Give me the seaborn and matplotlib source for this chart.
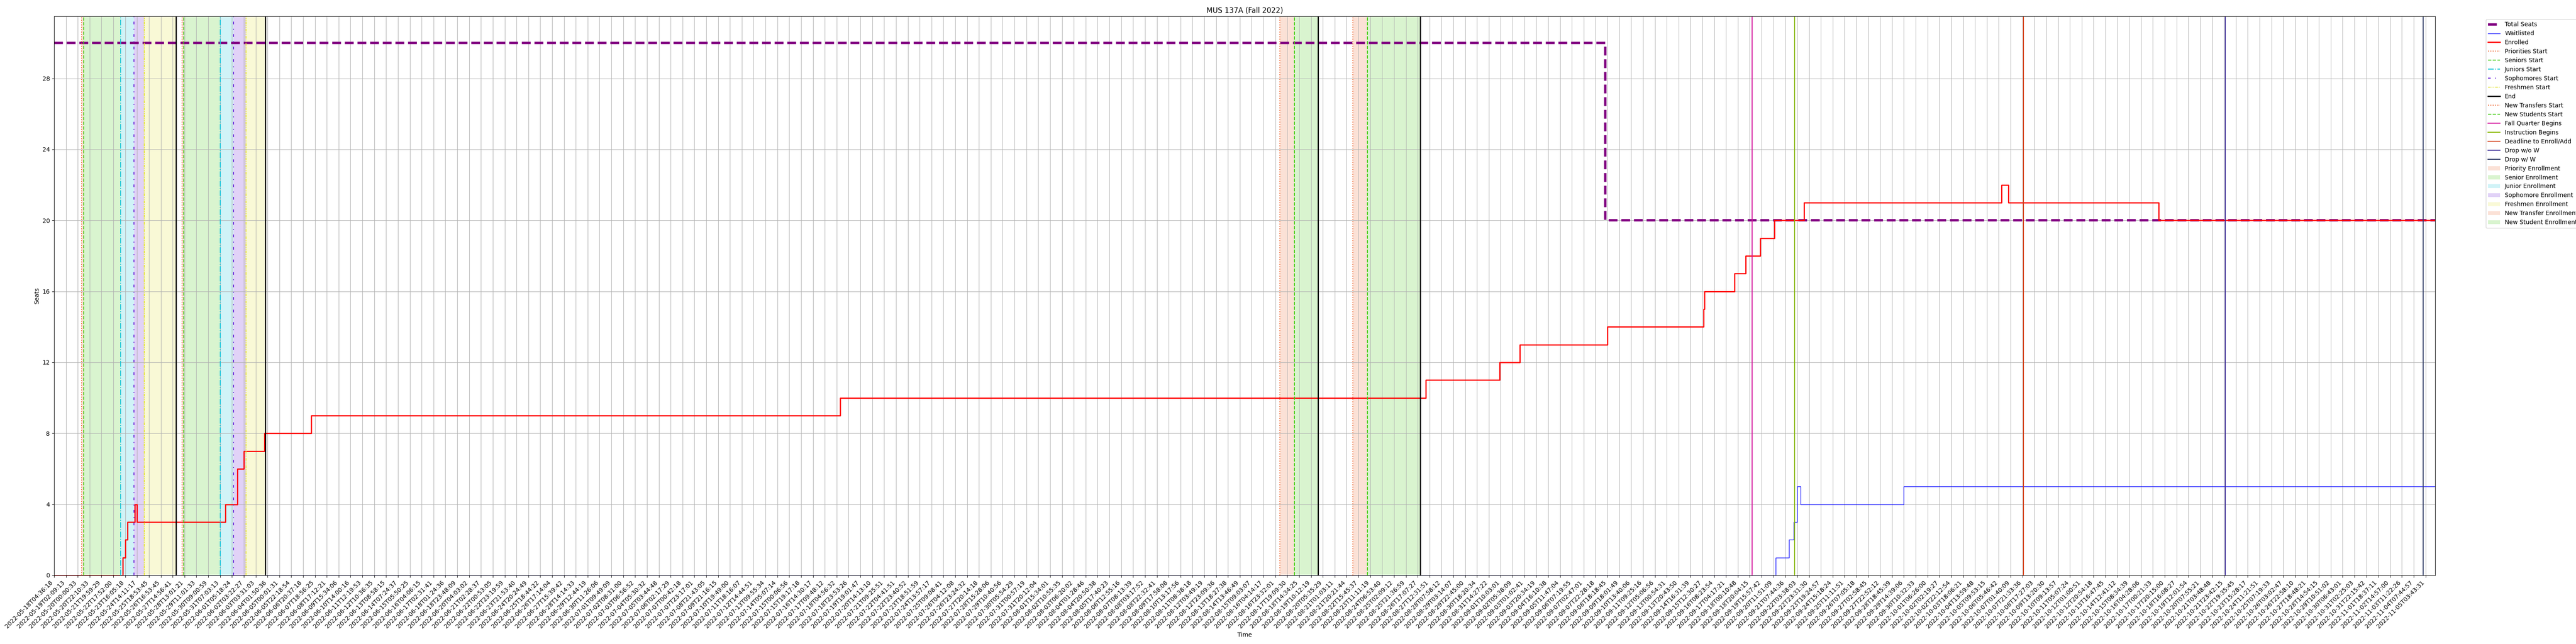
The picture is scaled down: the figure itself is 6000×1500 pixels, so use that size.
import numpy as np
import pandas as pd
import seaborn as sns
import matplotlib.pyplot as plt

# x axis: one tick every N samples, positions below are in tick units
# (labels 139-185 were too small to read fully; they are estimates)
tick_labels = [
    "2022-05-18T04:36:18", "2022-05-19T02:09:13", "2022-05-20T00:00:33", "2022-05-20T22:10:33",
    "2022-05-21T19:59:29", "2022-05-22T17:52:00", "2022-05-23T16:05:18", "2022-05-24T14:11:17",
    "2022-05-25T18:53:45", "2022-05-26T16:53:45", "2022-05-27T14:56:41", "2022-05-28T13:01:21",
    "2022-05-29T11:01:33", "2022-05-30T09:00:59", "2022-05-31T07:03:13", "2022-06-01T05:18:24",
    "2022-06-02T03:22:27", "2022-06-03T03:31:03", "2022-06-04T01:50:36", "2022-06-05T00:01:31",
    "2022-06-05T22:18:54", "2022-06-06T20:37:18", "2022-06-07T18:56:25", "2022-06-08T17:12:21",
    "2022-06-09T15:34:06", "2022-06-10T14:00:16", "2022-06-11T12:19:53", "2022-06-12T10:36:35",
    "2022-06-13T08:58:15", "2022-06-14T07:24:37", "2022-06-15T05:50:25", "2022-06-16T04:06:15",
    "2022-06-17T02:31:41", "2022-06-18T01:24:36", "2022-06-18T23:48:09", "2022-06-20T04:03:02",
    "2022-06-21T02:28:37", "2022-06-22T00:53:05", "2022-06-22T23:19:59", "2022-06-23T21:53:40",
    "2022-06-24T20:24:49", "2022-06-25T18:44:22", "2022-06-26T17:14:04", "2022-06-27T15:39:42",
    "2022-06-28T14:14:33", "2022-06-29T12:44:19", "2022-06-30T11:26:06", "2022-07-01T09:49:09",
    "2022-07-02T08:31:00", "2022-07-03T06:56:52", "2022-07-04T05:30:32", "2022-07-05T03:44:48",
    "2022-07-06T02:17:29", "2022-07-07T00:42:18", "2022-07-07T23:17:01", "2022-07-08T21:43:05",
    "2022-07-09T21:16:15", "2022-07-10T19:49:00", "2022-07-11T18:16:07", "2022-07-12T14:44:51",
    "2022-07-13T09:55:34", "2022-07-14T05:07:14", "2022-07-15T00:06:56", "2022-07-15T19:17:18",
    "2022-07-16T14:30:17", "2022-07-17T09:48:12", "2022-07-18T04:56:32", "2022-07-18T23:53:26",
    "2022-07-19T19:01:47", "2022-07-20T14:13:10", "2022-07-21T09:25:51", "2022-07-22T04:41:51",
    "2022-07-22T23:40:52", "2022-07-23T18:51:59", "2022-07-24T13:57:17", "2022-07-25T09:08:41",
    "2022-07-26T04:12:08", "2022-07-26T23:24:32", "2022-07-27T20:14:18", "2022-07-28T15:28:06",
    "2022-07-29T10:40:56", "2022-07-30T05:54:29", "2022-07-31T00:57:19", "2022-07-31T20:12:04",
    "2022-08-01T15:34:01", "2022-08-02T10:55:35", "2022-08-03T06:20:02", "2022-08-04T01:28:46",
    "2022-08-04T20:50:38", "2022-08-05T17:40:23", "2022-08-06T12:55:16", "2022-08-07T08:13:39",
    "2022-08-08T03:17:52", "2022-08-08T22:32:41", "2022-08-09T17:58:08", "2022-08-10T13:17:56",
    "2022-08-11T08:38:18", "2022-08-12T03:49:19", "2022-08-12T23:09:36", "2022-08-13T18:27:38",
    "2022-08-14T13:46:49", "2022-08-15T09:03:07", "2022-08-16T04:14:17", "2022-08-16T23:32:01",
    "2022-08-17T19:09:30", "2022-08-18T14:34:25", "2022-08-19T10:12:19", "2022-08-20T05:35:29",
    "2022-08-21T01:03:11", "2022-08-21T20:21:44", "2022-08-22T15:45:37", "2022-08-23T11:11:19",
    "2022-08-24T06:53:40", "2022-08-25T02:09:12", "2022-08-25T21:36:59", "2022-08-26T17:07:27",
    "2022-08-27T12:31:51", "2022-08-28T07:58:12", "2022-08-29T03:14:07", "2022-08-29T22:45:00",
    "2022-08-30T18:20:34", "2022-08-31T14:27:22", "2022-09-01T10:03:01", "2022-09-02T05:38:09",
    "2022-09-03T01:02:41", "2022-09-03T20:34:19", "2022-09-04T16:10:38", "2022-09-05T11:47:04",
    "2022-09-06T07:19:55", "2022-09-07T02:47:01", "2022-09-07T22:28:18", "2022-09-08T18:18:45",
    "2022-09-09T18:01:49", "2022-09-10T13:40:06", "2022-09-11T09:25:16", "2022-09-12T05:06:56",
    "2022-09-13T00:54:31", "2022-09-13T20:43:50", "2022-09-14T16:31:39", "2022-09-15T12:30:27",
    "2022-09-16T08:23:54", "2022-09-17T04:17:21", "2022-09-18T00:10:48", "2022-09-18T20:04:15",
    "2022-09-19T15:57:42", "2022-09-20T11:51:09", "2022-09-21T07:44:36", "2022-09-22T03:38:03",
    "2022-09-22T23:31:30", "2022-09-23T19:24:57", "2022-09-24T15:18:24", "2022-09-25T11:11:51",
    "2022-09-26T07:05:18", "2022-09-27T02:58:45", "2022-09-27T22:52:12", "2022-09-28T18:45:39",
    "2022-09-29T14:39:06", "2022-09-30T10:32:33", "2022-10-01T06:26:00", "2022-10-02T02:19:27",
    "2022-10-02T22:12:54", "2022-10-03T18:06:21", "2022-10-04T13:59:48", "2022-10-05T09:53:15",
    "2022-10-06T05:46:42", "2022-10-07T01:40:09", "2022-10-07T21:33:36", "2022-10-08T17:27:03",
    "2022-10-09T13:20:30", "2022-10-10T09:13:57", "2022-10-11T05:07:24", "2022-10-12T01:00:51",
    "2022-10-12T20:54:18", "2022-10-13T16:47:45", "2022-10-14T12:41:12", "2022-10-15T08:34:39",
    "2022-10-16T04:28:06", "2022-10-17T00:21:33", "2022-10-17T20:15:00", "2022-10-18T16:08:27",
    "2022-10-19T12:01:54", "2022-10-20T07:55:21", "2022-10-21T03:48:48", "2022-10-21T23:42:15",
    "2022-10-22T19:35:45", "2022-10-23T15:28:17", "2022-10-24T11:21:51", "2022-10-25T07:19:33",
    "2022-10-26T03:02:47", "2022-10-26T22:58:10", "2022-10-27T18:48:21", "2022-10-28T14:54:15",
    "2022-10-29T10:51:02", "2022-10-30T06:43:01", "2022-10-31T02:25:03", "2022-10-31T22:15:42",
    "2022-11-01T18:37:11", "2022-11-02T14:57:00", "2022-11-03T11:22:26", "2022-11-04T07:44:57",
    "2022-11-05T03:43:31",
]

# step series (x in tick units, value from that point on)
seats_x = [0, 130.8, 200.8]
seats_y = [30, 20, 20]

waitlist_x = [0, 145.2, 146.3, 146.7, 147.0, 147.3, 156.0, 200.8]
waitlist_y = [0, 1, 2, 3, 5, 4, 5, 5]

enrolled_x = [0, 5.81, 6.02, 6.20, 6.79, 6.98, 14.45, 15.45, 15.99, 17.75, 21.7, 66.3,
              115.7, 121.9, 123.6, 131.0, 139.1, 139.2, 141.7, 142.66, 143.9, 145.1,
              147.6, 164.25, 164.8, 177.5, 200.8]
enrolled_y = [0, 1, 2, 3, 4, 3, 4, 6, 7, 8, 9, 10,
              11, 12, 13, 14, 15, 16, 17, 18, 19, 20,
              21, 22, 21, 20, 20]

# enrollment pass events
priorities_start = [2.32, 10.78]
seniors_start = [2.51, 10.95]
juniors_start = [5.62, 14.03]
sophomores_start = [6.72, 15.12]
freshmen_start = [7.61, 16.17]
pass_end = [10.30, 17.82]
new_transfers_start = [103.37, 109.52]
new_students_start = [104.6, 110.75]
new_end = [106.59, 115.23]
fall_quarter_begins = 143.2
instruction_begins = 146.8
deadline_enroll = 166.1
drop_wo_w = 183.1
drop_w_w = 199.8

c_orange = "#ee6a35"
c_green = "#44cc11"
c_cyan = "#17c5d8"
c_purple = "#6a22d8"
c_yellow = "#e2e236"

fig = plt.figure(figsize=(60, 15), dpi=100)
ax = fig.add_axes([0.021, 0.1067, 0.9243, 0.868])

seats = pd.DataFrame({"x": seats_x, "y": seats_y})
wait = pd.DataFrame({"x": waitlist_x, "y": waitlist_y})
enr = pd.DataFrame({"x": enrolled_x, "y": enrolled_y})

sns.lineplot(data=seats, x="x", y="y", ax=ax, drawstyle="steps-post", color="purple",
             linestyle="--", linewidth=4, label="Total Seats", estimator=None)
sns.lineplot(data=wait, x="x", y="y", ax=ax, drawstyle="steps-post", color="blue",
             linewidth=1, label="Waitlisted", estimator=None)
sns.lineplot(data=enr, x="x", y="y", ax=ax, drawstyle="steps-post", color="red",
             linewidth=2, label="Enrolled", estimator=None)

def vlines(xs, label, **kw):
    for i, x in enumerate(np.atleast_1d(xs)):
        ax.axvline(x, label=label if i == 0 else None, **kw)

vlines(priorities_start, "Priorities Start", color=c_orange, linestyle=":", lw=1.5)
vlines(seniors_start, "Seniors Start", color=c_green, linestyle="--", lw=1.5)
vlines(juniors_start, "Juniors Start", color=c_cyan, linestyle="-.", lw=1.5)
vlines(sophomores_start, "Sophomores Start", color=c_purple, linestyle=(0, (3, 5, 1, 5)), lw=1.5)
vlines(freshmen_start, "Freshmen Start", color=c_yellow, linestyle=(0, (3, 1, 1, 1, 1, 1)), lw=1.5)
vlines(pass_end + new_end, "End", color="black", lw=2)
vlines(new_transfers_start, "New Transfers Start", color=c_orange, linestyle=":", lw=1.5)
vlines(new_students_start, "New Students Start", color=c_green, linestyle="--", lw=1.5)
vlines(fall_quarter_begins, "Fall Quarter Begins", color="#d3139c", lw=1.5)
vlines(instruction_begins, "Instruction Begins", color="#88b800", lw=1.5)
vlines(deadline_enroll, "Deadline to Enroll/Add", color="#d2401a", lw=1.5)
vlines(drop_wo_w, "Drop w/o W", color="#3a2a96", lw=1.5)
vlines(drop_w_w, "Drop w/ W", color="#2e3a64", lw=1.5)

def spans(starts, ends, label, color):
    for i, (a, b) in enumerate(zip(starts, ends)):
        ax.axvspan(a, b, color=color, alpha=0.2, lw=0, label=label if i == 0 else None)

spans(priorities_start, seniors_start, "Priority Enrollment", c_orange)
spans(seniors_start, juniors_start, "Senior Enrollment", c_green)
spans(juniors_start, sophomores_start, "Junior Enrollment", c_cyan)
spans(sophomores_start, freshmen_start, "Sophomore Enrollment", c_purple)
spans(freshmen_start, pass_end, "Freshmen Enrollment", c_yellow)
spans(new_transfers_start, new_students_start, "New Transfer Enrollment", c_orange)
spans(new_students_start, new_end, "New Student Enrollment", c_green)

ax.set_xticks(range(len(tick_labels)))
ax.set_xticklabels(tick_labels, rotation=45, ha="right")
ax.set_xlim(0, 200.8)
ax.set_ylim(0, 31.5)
ax.set_yticks(range(0, 32, 4))
ax.grid(True)
ax.set_xlabel("Time")
ax.set_ylabel("Seats")
ax.set_title("MUS 137A (Fall 2022)")
ax.legend(loc="upper left", bbox_to_anchor=(1.02, 1))

fig.savefig("out.png")
